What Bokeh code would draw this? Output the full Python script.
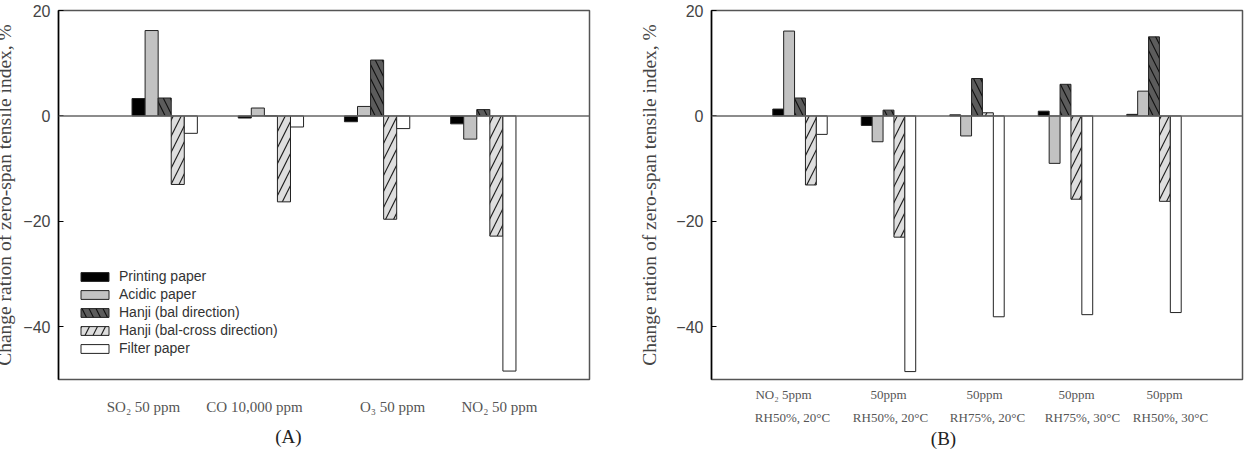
from bokeh.plotting import figure
from bokeh.models import (Range1d, FixedTicker, Span, Legend, LegendItem,
                          LinearAxis)
from bokeh.layouts import row
from bokeh.embed import file_html
from bokeh.resources import INLINE

# ---- data -------------------------------------------------------------
series = ["Printing paper", "Acidic paper", "Hanji (bal direction)",
          "Hanji (bal-cross direction)", "Filter paper"]

# Panel A: gas type
a_groups = ["SO\u2082 50 ppm", "CO 10,000 ppm", "O\u2083 50 ppm", "NO\u2082 50 ppm"]
a_printing = [3.3, -0.4, -1.1, -1.5]
a_acidic = [16.2, 1.5, 1.8, -4.4]
a_hanji_bal = [3.4, 0.0, 10.6, 1.2]
a_hanji_cross = [-13.0, -16.3, -19.6, -22.8]
a_filter = [-3.3, -2.1, -2.4, -48.4]

# Panel B: NO2 concentration / humidity / temperature
b_line1 = ["NO\u2082 5ppm", "50ppm", "50ppm", "50ppm", "50ppm"]
b_line2 = ["RH50%, 20\u00b0C", "RH50%, 20\u00b0C", "RH75%, 20\u00b0C",
           "RH75%, 30\u00b0C", "RH50%, 30\u00b0C"]
b_printing = [1.3, -1.8, 0.2, 0.9, 0.3]
b_acidic = [16.1, -4.9, -3.8, -9.0, 4.7]
b_hanji_bal = [3.4, 1.1, 7.1, 6.0, 15.0]
b_hanji_cross = [-13.1, -23.0, 0.6, -15.8, -16.2]
b_filter = [-3.5, -48.5, -38.1, -37.7, -37.3]

y_ticks = [-40, -20, 0, 20]
y_title = "Change ration of zero-span tensile index, %"

# ---- styling ----------------------------------------------------------
styles = [
    dict(fill_color="black"),
    dict(fill_color="#c2c2c2"),
    dict(fill_color="#5c5c5c", hatch_pattern="\\", hatch_color="#111111",
         hatch_scale=14, hatch_weight=1.2),
    dict(fill_color="#dedede", hatch_pattern="/", hatch_color="#222222",
         hatch_scale=16, hatch_weight=1.2),
    dict(fill_color="white"),
]
BAR_W = 0.123
FIG_H = 455
TOP, BOTTOM = 10, 76
FRAME_W = 531
SANS = "Liberation Sans"
SERIF = "Liberation Serif"


def make_panel(n_groups, values, width, left, right, title_standoff):
    p = figure(width=width, height=FIG_H, output_backend="svg",
               toolbar_location=None, x_range=Range1d(0, n_groups + 1),
               y_range=Range1d(-50, 20), min_border_left=left,
               min_border_right=right, min_border_top=TOP,
               min_border_bottom=BOTTOM, x_axis_location=None)
    # pixel-based range used only to place the category labels
    p.extra_x_ranges = {"lab": Range1d(0, FRAME_W)}
    p.grid.visible = False
    p.outline_line_color = "#555555"
    p.outline_line_width = 1.5
    ya = p.yaxis[0]
    ya.ticker = FixedTicker(ticks=y_ticks)
    ya.axis_line_color = "black"
    ya.axis_line_width = 1.5
    ya.major_tick_in = 5
    ya.major_tick_out = 0
    ya.minor_tick_line_color = None
    ya.major_label_standoff = 8
    ya.major_label_text_font = SANS
    ya.major_label_text_font_size = "16px"
    ya.major_label_text_color = "#444444"
    ya.axis_label = y_title
    ya.axis_label_text_font = SERIF
    ya.axis_label_text_font_size = "19.5px"
    ya.axis_label_text_font_style = "normal"
    ya.axis_label_text_color = "#444444"
    ya.axis_label_standoff = title_standoff

    renderers = []
    for k, vals in enumerate(values):
        xs = [g + 1 + (k - 2) * BAR_W for g in range(n_groups)]
        r = p.vbar(x=xs, top=vals, bottom=0, width=BAR_W,
                   line_color="#222222", line_width=1, **styles[k])
        renderers.append(r)
    p.add_layout(Span(location=0, dimension="width", line_color="#666666",
                      line_width=1.5))
    return p, renderers


def label_axis(ticks, labels, size, standoff, color="#555555"):
    ax = LinearAxis(x_range_name="lab", ticker=FixedTicker(ticks=ticks),
                    major_label_overrides=dict(zip(ticks, labels)))
    ax.axis_line_color = None
    ax.major_tick_line_color = None
    ax.minor_tick_line_color = None
    ax.major_tick_out = 0
    ax.major_tick_in = 0
    ax.major_label_standoff = standoff
    ax.major_label_text_font = SERIF
    ax.major_label_text_font_size = size
    ax.major_label_text_color = color
    return ax


# ---- panel A ----------------------------------------------------------
SHIFT = 30  # part of panel A sits past the left page edge
pa, ra = make_panel(len(a_groups),
                    [a_printing, a_acidic, a_hanji_bal, a_hanji_cross, a_filter],
                    622 + SHIFT, 58 + SHIFT, 33, 5)
pa.styles = {"margin-left": f"-{SHIFT}px"}
pa.add_layout(label_axis([85, 196, 334, 441], a_groups, "15px", 19), "below")
pa.add_layout(label_axis([230], ["(A)"], "19px", 8, "#222222"), "below")

legend = Legend(items=[LegendItem(label=s, renderers=[r])
                       for s, r in zip(series, ra)],
                location=(19, 23), border_line_color=None,
                background_fill_alpha=0, glyph_width=35, glyph_height=11,
                label_height=11, spacing=2, padding=0, margin=0,
                label_standoff=7, label_text_font=SANS,
                label_text_font_size="14px", label_text_color="#333333")
pa.add_layout(legend, "center")

# ---- panel B ----------------------------------------------------------
pb, rb = make_panel(len(b_line1),
                    [b_printing, b_acidic, b_hanji_bal, b_hanji_cross, b_filter],
                    622, 89, 2, 13)
pb.add_layout(label_axis([72, 177, 273, 365, 453], b_line1, "13px", 7), "below")
pb.add_layout(label_axis([81, 179, 276, 371, 459], b_line2, "13px", 5), "below")
pb.add_layout(label_axis([232], ["(B)"], "19px", 0, "#222222"), "below")

layout = row(pa, pb)
open("out.html", "w").write(file_html(layout, INLINE))
